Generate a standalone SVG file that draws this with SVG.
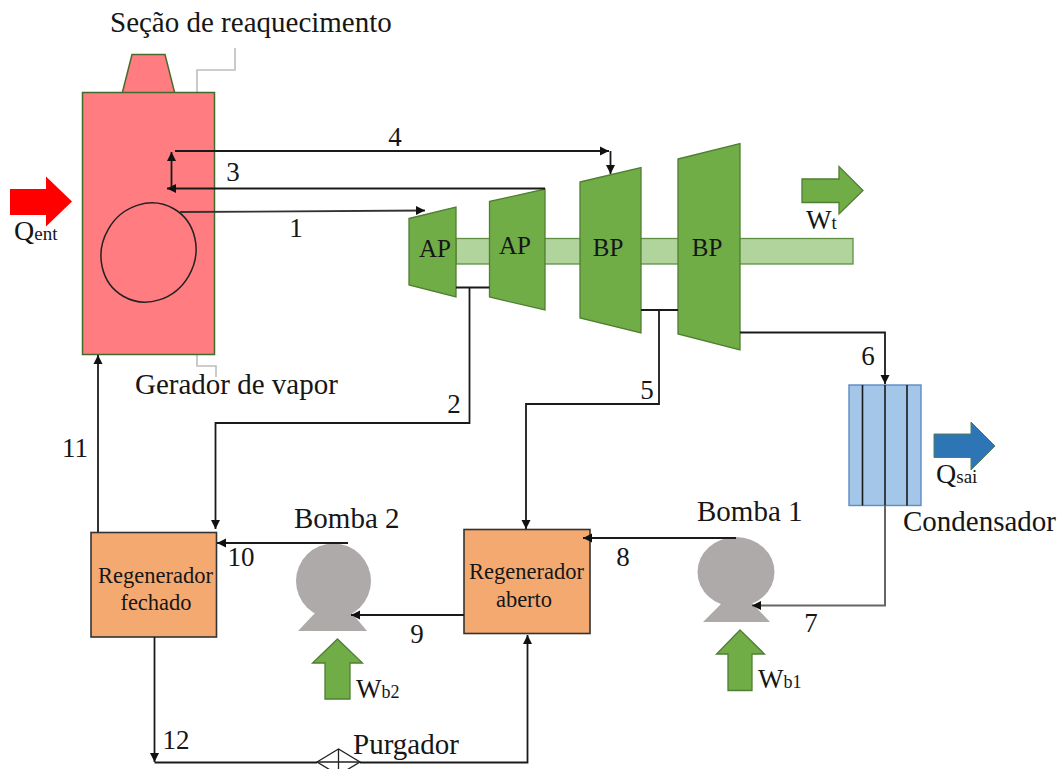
<svg xmlns="http://www.w3.org/2000/svg" width="1057" height="769" viewBox="0 0 1057 769">
<style>
text{font-family:"Liberation Serif","Times New Roman",serif;font-size:29px;fill:#161616}
.n{font-size:27px;text-anchor:middle}
.t{font-size:25px;text-anchor:middle}
.r{font-size:22.5px;text-anchor:middle}
.s{font-size:19px}
.w{font-size:27px}
.b{font-size:18px}
.q{font-size:28px}
.c{fill:none;stroke:#1a1a1a;stroke-width:1.8}
.g{fill:none;stroke:#bdbdbd;stroke-width:1.6}
.gr{fill:#70ad47;stroke:#507e32;stroke-width:1.3}
.sh{fill:#b1d39c;stroke:#5f8f42;stroke-width:1.3}
.o{fill:#f4a971;stroke:#333;stroke-width:1.6}
.p{fill:#aeaaaa}
.tube{stroke:#1a1a1a;stroke-width:1.6}
</style>
<defs>
<marker id="a" markerUnits="userSpaceOnUse" markerWidth="11" markerHeight="11" refX="9" refY="5.5" orient="auto"><path d="M0 1 L9 5.5 L0 10 Z" fill="#111"/></marker>
</defs>
<rect width="1057" height="769" fill="#fff"/>
<g id="leaders">
<path class="g" d="M235 48V70H197V92"/>
<path class="g" d="M197 355V366H216V377"/>
</g>
<g id="shaft"><rect class="sh" x="456" y="238.5" width="397" height="25.5"/></g>
<g id="gerador-vapor">
<path d="M122 94L132 54.5H165L175 94Z" fill="#ff7c80" stroke="#4a6b2c" stroke-width="1.5"/>
<rect x="82.5" y="92.5" width="132" height="262" fill="#ff7c80" stroke="#3f6b2c" stroke-width="1.5"/>
<ellipse cx="148.5" cy="252.5" rx="46.5" ry="50.5" transform="rotate(30 148.5 252.5)" fill="none" stroke="#222" stroke-width="1.5"/>
<text x="110" y="32">Seção de reaquecimento</text>
<text x="135" y="394">Gerador de vapor</text>
</g>
<g id="qent">
<path d="M10 189H46V176.5L72 201.5L46 226.5V215H10Z" fill="#f00"/>
<text class="q" x="14" y="240">Q<tspan class="s">ent</tspan></text>
</g>
<g id="turbina-ap1"><path class="gr" d="M409 218.5L456 207V297L409 285Z"/><text class="t" x="435" y="257">AP</text></g>
<g id="turbina-ap2"><path class="gr" d="M489.5 201.5L545 189V310L489.5 297Z"/><text class="t" x="515" y="254">AP</text></g>
<g id="turbina-bp1"><path class="gr" d="M580 182L641 167.5V333L580 318Z"/><text class="t" x="608" y="256">BP</text></g>
<g id="turbina-bp2"><path class="gr" d="M678 159L740 143.5V350L678 334Z"/><text class="t" x="707" y="256">BP</text></g>
<g id="wt">
<path class="gr" d="M802 179H839V166.5L863 190.5L839 214V202.5H802Z"/>
<text class="w" x="806" y="229">W<tspan class="s">t</tspan></text>
</g>
<g id="condensador">
<rect x="849" y="385" width="72" height="120.5" fill="#a4c6e8" stroke="#5b8cc4" stroke-width="1.4"/>
<path class="tube" d="M862.5 385V505.5M885 385V505.5M907 385V505.5"/>
<text x="903" y="531">Condensador</text>
</g>
<g id="qsai">
<path d="M934 434H971V422L995 446L971 470V457.5H934Z" fill="#2e75b6" stroke="#4f7f5a" stroke-width="1"/>
<text class="q" x="936" y="483">Q<tspan class="s">sai</tspan></text>
</g>
<g id="bomba-1">
<ellipse class="p" cx="736" cy="572" rx="38.5" ry="35"/>
<path class="p" d="M703 622L722 603H752L770 622Z"/>
<text x="697" y="521">Bomba 1</text>
</g>
<g id="wb1">
<path class="gr" d="M740 630L764.5 654H752V690.5H728V654H716.5Z"/>
<text class="w" x="758" y="688">W<tspan class="b">b1</tspan></text>
</g>
<g id="bomba-2">
<circle class="p" cx="333.5" cy="581" r="37.5"/>
<path class="p" d="M298 631L316 612H351L367 631Z"/>
<text x="294" y="528">Bomba 2</text>
</g>
<g id="wb2">
<path class="gr" d="M337.5 639L362.5 663H350V699H325V663H312.5Z"/>
<text class="w" x="356" y="698">W<tspan class="b">b2</tspan></text>
</g>
<g id="regenerador-fechado">
<rect class="o" x="91" y="532.5" width="125.5" height="104.5"/>
<text class="r" x="155.5" y="583">Regenerador</text>
<text class="r" x="156" y="610">fechado</text>
</g>
<g id="regenerador-aberto">
<rect class="o" x="464" y="529.5" width="126" height="104"/>
<text class="r" x="526.5" y="579">Regenerador</text>
<text class="r" x="524" y="607">aberto</text>
</g>
<g id="purgador">
<path d="M317 762L338.5 749L360 762L338.5 775Z" fill="#fff" stroke="#222" stroke-width="1.3"/>
<path d="M338.5 749V775M317 762H360" stroke="#222" stroke-width="1.3"/>
<text x="353" y="754">Purgador</text>
</g>
<g id="connectors">
<path class="c" d="M180 212L425 210.5" marker-end="url(#a)" style="stroke:#333"/>
<path class="c" d="M545 188.5H167" marker-end="url(#a)"/>
<path class="c" d="M171.5 188V152" marker-end="url(#a)"/>
<path class="c" d="M175 151H609" marker-end="url(#a)"/>
<path class="c" d="M610.5 151V174" marker-end="url(#a)"/>
<path class="c" d="M456 287.5H489.5M469.5 287.5V423H215.5V529" marker-end="url(#a)"/>
<path class="c" d="M641 310H678M659 310V404H526V529" marker-end="url(#a)"/>
<path class="c" d="M740 332.5H885V384" marker-end="url(#a)"/>
<path class="c" d="M885 505.5V605.5H752" marker-end="url(#a)" style="stroke:#666;stroke-width:2"/>
<path class="c" d="M736 538H583" marker-end="url(#a)"/>
<path class="c" d="M464 615H351" marker-end="url(#a)"/>
<path class="c" d="M348 543H217" marker-end="url(#a)"/>
<path class="c" d="M98 532V355" marker-end="url(#a)"/>
<path class="c" d="M154.5 637V762" marker-end="url(#a)"/>
<path class="c" d="M154.5 762.5H317M360 762.5H527.5V635" marker-end="url(#a)"/>
</g>
<g id="labels">
<text class="n" x="395" y="146">4</text>
<text class="n" x="233" y="181">3</text>
<text class="n" x="296" y="237">1</text>
<text class="n" x="454" y="413">2</text>
<text class="n" x="647" y="399">5</text>
<text class="n" x="868" y="365">6</text>
<text class="n" x="811" y="632">7</text>
<text class="n" x="623" y="566">8</text>
<text class="n" x="417" y="643">9</text>
<text class="n" x="241" y="566">10</text>
<text class="n" x="75" y="457">11</text>
<text class="n" x="176" y="749">12</text>
</g>
</svg>
